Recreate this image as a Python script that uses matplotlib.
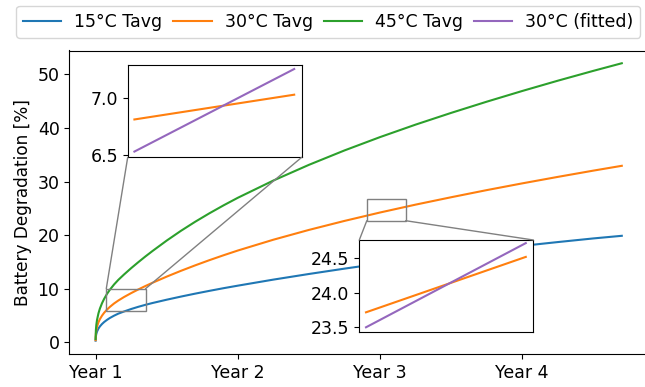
import matplotlib
matplotlib.use("Agg")
import matplotlib.pyplot as plt
from matplotlib.patches import Rectangle, ConnectionPatch

# ---- data (time in years since start) ----
t_years = [0.0, 0.002, 0.005, 0.01, 0.02, 0.03, 0.045, 0.06, 0.08, 0.1, 0.13, 0.16,
           0.2, 0.25, 0.3, 0.35, 0.4, 0.5, 0.6, 0.7, 0.8, 0.9, 1.0, 1.25, 1.5, 1.75,
           2.0, 2.25, 2.5, 2.75, 3.0, 3.25, 3.5, 3.7]
deg_15C = [0.3, 1.13, 1.56, 2.00, 2.56, 2.96, 3.41, 3.78, 4.18, 4.53, 4.97, 5.35,
           5.75, 6.21, 6.62, 6.99, 7.33, 7.95, 8.53, 9.08, 9.60, 10.10, 10.57, 11.70, 12.75, 13.75,
           14.70, 15.60, 16.45, 17.25, 18.00, 18.71, 19.39, 19.88]
deg_30C = [0.4, 1.65, 2.28, 2.92, 3.73, 4.31, 4.97, 5.51, 6.10, 6.60, 7.25, 7.80,
           8.45, 9.18, 9.86, 10.50, 11.11, 12.26, 13.34, 14.36, 15.33, 16.25, 17.13, 19.15, 20.98, 22.66,
           24.23, 25.70, 27.08, 28.41, 29.67, 30.88, 32.05, 32.95]
deg_45C = [0.6, 2.31, 3.24, 4.18, 5.40, 6.28, 7.29, 8.11, 9.03, 9.80, 10.80, 11.66,
           12.66, 13.84, 14.95, 16.02, 17.04, 18.99, 20.81, 22.50, 24.08, 25.57, 26.98, 30.20, 33.13, 35.82,
           38.31, 40.64, 42.83, 44.92, 46.92, 48.84, 50.68, 52.10]

tick_pos = [0, 1, 2, 3]
tick_labels = ["Year 1", "Year 2", "Year 3", "Year 4"]
y_ticks = [0, 10, 20, 30, 40, 50]

# insets (zoomed segments: 30C Tavg vs fitted)
inset1_x = [0, 1]
inset1_30C = [6.81, 7.026]
inset1_fit = [6.53, 7.25]
inset1_ticks = [6.5, 7.0]
inset1_box = (0.075, 5.9, 0.276, 4.1)   # x, y, w, h in main-data coords

inset2_x = [0, 1]
inset2_30C = [23.717, 24.52]
inset2_fit = [23.50, 24.72]
inset2_ticks = [23.5, 24.0, 24.5]
inset2_box = (1.907, 22.7, 0.273, 4.0)

c15, c30, c45, cfit = "#1f77b4", "#ff7f0e", "#2ca02c", "#9467bd"

plt.rcParams['font.size'] = 12.5
fig = plt.figure(figsize=(6.45, 3.87), dpi=100)
ax = fig.add_axes([69.3/645, 1-354/387, 578.8/645, (354-50.5)/387])

l15, = ax.plot(t_years, deg_15C, color=c15, lw=1.5, label="15°C Tavg")
l30, = ax.plot(t_years, deg_30C, color=c30, lw=1.5, label="30°C Tavg")
l45, = ax.plot(t_years, deg_45C, color=c45, lw=1.5, label="45°C Tavg")

ax.set_xlim(-0.185, 3.885)
ax.set_ylim(-2.19, 54.48)
ax.set_xticks(tick_pos)
ax.set_xticklabels(tick_labels)
ax.set_yticks(y_ticks)
ax.set_ylabel("Battery Degradation [%]", fontsize=12.2)


def make_inset(rect, xs, y30, yfit, ylim, yticks, box):
    ins = fig.add_axes(rect)
    ins.plot(xs, y30, color=c30, lw=1.5)
    lf, = ins.plot(xs, yfit, color=cfit, lw=1.5, label="30°C (fitted)")
    ins.set_xlim(-0.042, 1.047)
    ins.set_ylim(*ylim)
    ins.set_xticks([])
    ins.set_yticks(yticks)
    bx, by, bw, bh = box
    ax.add_patch(Rectangle((bx, by), bw, bh, fill=False, ec="0.5", lw=1.0, zorder=3))
    return ins, lf

ins1, lfit = make_inset([127.7/645, 1-157.3/387, 174/645, 92.3/387],
                        inset1_x, inset1_30C, inset1_fit, (6.48, 7.285), inset1_ticks, inset1_box)
ins2, _ = make_inset([359.3/645, 1-331.7/387, 174/645, 91.7/387],
                     inset2_x, inset2_30C, inset2_fit, (23.436, 24.765), inset2_ticks, inset2_box)

fig.legend(handles=[l15, l30, l45, lfit], loc="upper center", ncol=4,
           bbox_to_anchor=(0.509, 1-6/387), fontsize=12.5, columnspacing=0.63,
           handlelength=2.2, handletextpad=0.75, borderaxespad=0.0)

# connectors
bx, by, bw, bh = inset1_box
for (px, py), (qx, qy) in [((bx, by+bh), (0, 0)), ((bx+bw, by+bh), (1, 0))]:
    fig.add_artist(ConnectionPatch(xyA=(px, py), coordsA=ax.transData,
                                   xyB=(qx, qy), coordsB=ins1.transAxes,
                                   color="0.5", lw=1.0))
bx, by, bw, bh = inset2_box
for (px, py), (qx, qy) in [((bx, by), (0, 1)), ((bx+bw, by), (1, 1))]:
    fig.add_artist(ConnectionPatch(xyA=(px, py), coordsA=ax.transData,
                                   xyB=(qx, qy), coordsB=ins2.transAxes,
                                   color="0.5", lw=1.0))

fig.savefig("out.png", dpi=100)
